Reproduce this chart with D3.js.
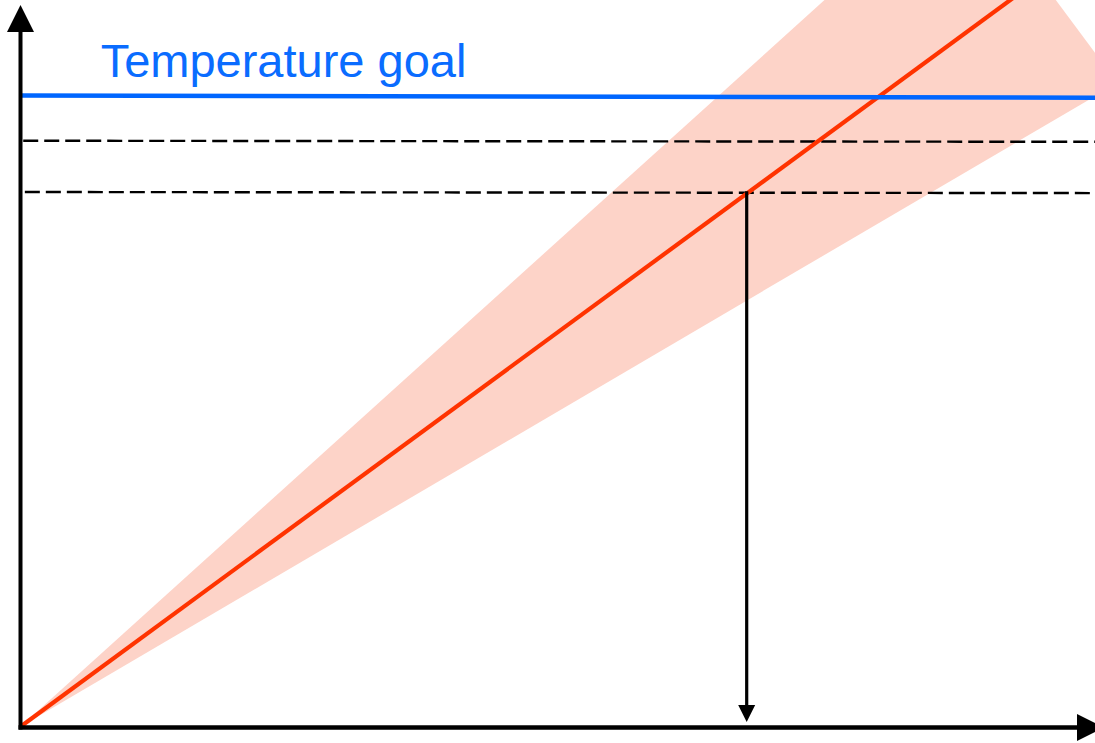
<!DOCTYPE html>
<html>
<head>
<meta charset="utf-8">
<script src="https://cdn.jsdelivr.net/npm/d3@7"></script>
<style>
  html, body { margin: 0; padding: 0; background: #fff; overflow: hidden; }
  svg { display: block; }
</style>
</head>
<body>
<svg id="chart" width="1095" height="743"></svg>
<script>
// ---- data (abstract units: time on x, temperature on y) ----
const projection = [[0, 0], [100, 109.3]];            // central warming path
const uncertaintyCone = [[0, 0], [87.7, 118.0], [102.1, 89.2]]; // shaded range
const goalLine = [[0, 87.45], [100, 87.15]];          // temperature goal
const thresholdHigh = [[0.3, 81.2], [100, 81.05]];    // dashed level 1
const thresholdLow = [[0.45, 74.1], [100, 73.95]];    // dashed level 2
const crossingX = [67.6];                              // where path meets level 2
const crossingY = [74.2, 0.7];
const labels = ["Temperature goal"];
const labelPos = [[7.5, 90.05]];

const svg = d3.select("#chart");
const x = d3.scaleLinear().domain([0, 100]).range([20, 1095]);
const y = d3.scaleLinear().domain([0, 100]).range([727, 5]);
const line = d3.line().x(d => x(d[0])).y(d => y(d[1]));

// shaded cone
svg.append("path")
  .attr("d", line(uncertaintyCone) + "Z")
  .attr("fill", "rgb(253,211,200)");

// dashed levels
[thresholdHigh, thresholdLow].forEach(d => {
  svg.append("path").attr("d", line(d))
    .attr("stroke", "#000").attr("stroke-width", 2.4)
    .attr("stroke-dasharray", "15,6").attr("fill", "none");
});

// red projection
svg.append("path").attr("d", line(projection))
  .attr("stroke", "rgb(255,51,0)").attr("stroke-width", 4.2).attr("fill", "none");

// blue goal
svg.append("path").attr("d", line(goalLine))
  .attr("stroke", "rgb(0,102,255)").attr("stroke-width", 4.5).attr("fill", "none");

// vertical arrow down to the x axis
const ax = x(crossingX[0]);
const ayTop = y(crossingY[0]), ayTip = y(crossingY[1]);
svg.append("line").attr("x1", ax).attr("x2", ax).attr("y1", ayTop).attr("y2", ayTip - 14)
  .attr("stroke", "#000").attr("stroke-width", 3.2);
svg.append("path")
  .attr("d", `M${ax - 8.5},${ayTip - 17}L${ax + 8.5},${ayTip - 17}L${ax},${ayTip}Z`)
  .attr("fill", "#000");

// axes
const ox = x(0) + 0.5, oy = y(0) + 0.5;
svg.append("line").attr("x1", ox).attr("x2", ox).attr("y1", oy + 2).attr("y2", 30)
  .attr("stroke", "#000").attr("stroke-width", 4);
svg.append("path").attr("d", `M${ox - 13.5},32L${ox + 13.5},32L${ox},5Z`).attr("fill", "#000");
svg.append("line").attr("x1", ox - 2).attr("x2", 1079).attr("y1", oy).attr("y2", oy)
  .attr("stroke", "#000").attr("stroke-width", 4.5);
svg.append("path").attr("d", `M1077,${oy - 13.5}L1077,${oy + 13.5}L1104,${oy}Z`).attr("fill", "#000");

// label
svg.append("text")
  .attr("x", x(labelPos[0][0])).attr("y", y(labelPos[0][1]))
  .attr("font-family", "Liberation Sans, Arial, sans-serif")
  .attr("font-size", 47)
  .attr("fill", "rgb(10,108,255)")
  .text(labels[0]);
</script>
</body>
</html>
